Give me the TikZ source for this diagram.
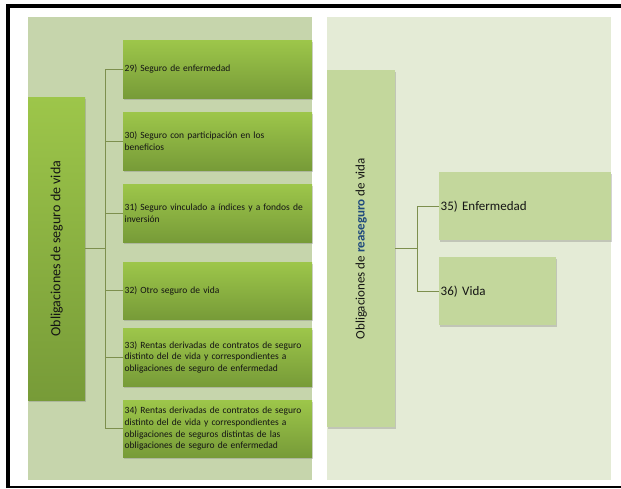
\documentclass[tikz,border=0pt]{standalone}
\usepackage{fontspec}
\setmainfont{Carlito}
\usepackage{xcolor}
\usetikzlibrary{shadows}

\definecolor{panelL}{HTML}{C6D5AC}
\definecolor{panelR}{HTML}{E4EBD6}
\definecolor{greenTop}{HTML}{9DC64A}
\definecolor{greenBot}{HTML}{779B38}
\definecolor{paleBox}{HTML}{C3D79C}
\definecolor{linkCol}{HTML}{7D8F4E}
\definecolor{blueRe}{HTML}{1F497D}
\definecolor{textCol}{HTML}{141414}

\tikzset{
  panel/.style={anchor=north west, inner sep=0pt},
  mainbox/.style={anchor=north west, inner sep=0pt, text=textCol,
    drop shadow={shadow xshift=1pt, shadow yshift=-1.5pt, opacity=.35}},
  greenbox/.style={anchor=north west, inner sep=1.5pt, top color=greenTop,
    bottom color=greenBot, draw=none, text=textCol, align=left,
    minimum width=189pt, text width=186pt,
    font=\fontsize{9.5}{11.7}\selectfont,
    drop shadow={shadow xshift=1pt, shadow yshift=-1.5pt, opacity=.35}},
  palebox/.style={anchor=north west, inner sep=1.5pt, fill=paleBox,
    text=textCol, align=left, font=\fontsize{13}{15}\selectfont,
    drop shadow={shadow xshift=1pt, shadow yshift=-1.5pt, opacity=.35}},
  link/.style={draw=linkCol, line width=0.7pt}
}

\begin{document}
\begin{tikzpicture}[x=1pt, y=-1pt]
\useasboundingbox (0,0) rectangle (621,488);

% frame
\draw[line width=4pt] (8,488) -- (8,6) -- (621,6);
\draw[line width=2pt] (7,487) -- (621,487);

% panels
\node[panel, fill=panelL, minimum width=284pt, minimum height=463pt] (panelA) at (28,17) {};
\node[panel, fill=panelR, minimum width=284pt, minimum height=463pt] (panelB) at (327,17) {};

% left tree
\node[mainbox, top color=greenTop, bottom color=greenBot,
      minimum width=57pt, minimum height=303pt] (mainL) at (28,97) {};
\node[rotate=90, text=textCol, font=\fontsize{14}{16}\selectfont] (mainLtxt) at (mainL.center) {Obligaciones de seguro de vida};

\node[greenbox, minimum height=58pt] (c29) at (123,40) {29) Seguro de enfermedad};
\node[greenbox, minimum height=58pt] (c30) at (123,112) {30) Seguro con participación en los\\beneficios};
\node[greenbox, minimum height=58pt] (c31) at (123,184) {31) Seguro vinculado a índices y a fondos de\\inversión};
\node[greenbox, minimum height=57pt] (c32) at (123,262) {32) Otro seguro de vida};
\node[greenbox, minimum height=58pt] (c33) at (123,328) {33) Rentas derivadas de contratos de seguro\\distinto del de vida y correspondientes a\\obligaciones de seguro de enfermedad};
\node[greenbox, minimum height=57pt] (c34) at (123,400) {34) Rentas derivadas de contratos de seguro\\distinto del de vida y correspondientes a\\obligaciones de seguros distintas de las\\obligaciones de seguro de enfermedad};

\coordinate (jL) at (105,248);
\draw[link] (mainL.east |- jL) -- (jL);
\foreach \c in {c29,c30,c31,c32,c33,c34}
  \draw[link] (jL) |- (\c.west);

% right tree
\node[mainbox, fill=paleBox, minimum width=68pt, minimum height=357pt] (mainR) at (327,70) {};
\node[rotate=90, text=textCol, font=\fontsize{13}{15}\selectfont] (mainRtxt) at (mainR.center)
  {Obligaciones de \textbf{\textcolor{blueRe}{reaseguro}} de vida};

\node[palebox, minimum width=172pt, minimum height=68pt, text width=169pt] (c35) at (439,172) {35) Enfermedad};
\node[palebox, minimum width=117pt, minimum height=68pt, text width=114pt] (c36) at (439,257) {36) Vida};

\coordinate (jR) at (417,248);
\draw[link] (mainR.east |- jR) -- (jR);
\foreach \c in {c35,c36}
  \draw[link] (jR) |- (\c.west);
\end{tikzpicture}
\end{document}
